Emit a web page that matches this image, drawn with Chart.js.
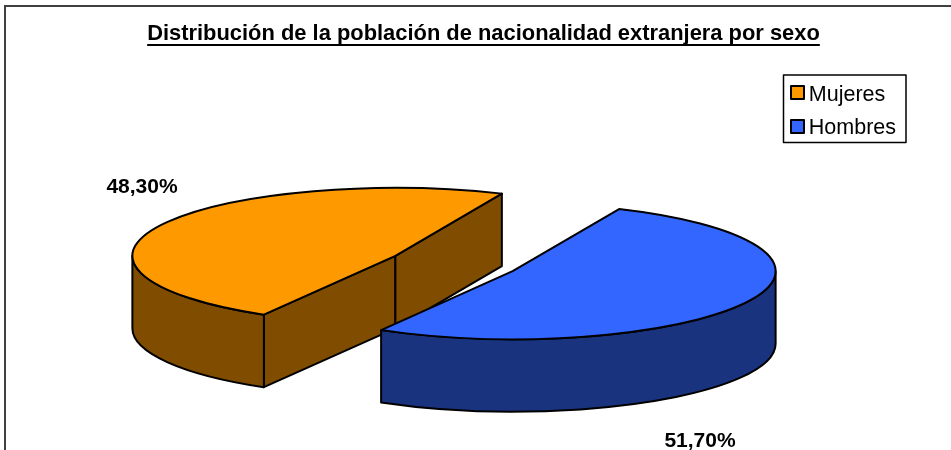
<!DOCTYPE html>
<html lang="es">
<head>
<meta charset="utf-8">
<title>Distribución por sexo</title>
<script src="https://cdn.jsdelivr.net/npm/chart.js@4"></script>
<style>
  html, body { margin: 0; background: #fff; }
  canvas { display: block; }
</style>
</head>
<body>
<canvas id="grafico" width="951" height="450"></canvas>
<script>
const tituloGrafico = 'Distribución de la población de nacionalidad extranjera por sexo';
const categorias = ['Mujeres', 'Hombres'];
const valores = [48.3, 51.7];
const coloresTapa = ['#FF9900', '#3366FF'];
const coloresLado = ['#804D00', '#19337F'];
const posEtiquetas = [[142, 187], [700, 441]];

// Perspectiva de la tarta
const pieX = 454, pieY = 263.5, radioX = 263, radioY = 68, fondo = 72.5;
const separacion = 0.25; // fraccion del radio que se separa cada porcion
const fuente = 'Liberation Sans, Arial, sans-serif';

function centroNativo(chart) {
  const area = chart.chartArea;
  return { x: (area.left + area.right) / 2, y: (area.top + area.bottom) / 2 };
}

function centroPantalla(chart, arc) {
  const n = centroNativo(chart);
  return {
    x: pieX + (arc.x - n.x) * radioX / arc.outerRadius,
    y: pieY + (arc.y - n.y) * radioY / arc.outerRadius
  };
}

function borde(ctx) {
  ctx.strokeStyle = '#000';
  ctx.lineWidth = 2;
  ctx.lineJoin = 'round';
  ctx.stroke();
}

// Cara plana del corte, solo si mira hacia el frente
function caraCorte(ctx, c, ang, color) {
  const px = c.x + Math.cos(ang) * radioX;
  const py = c.y + Math.sin(ang) * radioY;
  ctx.beginPath();
  ctx.moveTo(c.x, c.y);
  ctx.lineTo(px, py);
  ctx.lineTo(px, py + fondo);
  ctx.lineTo(c.x, c.y + fondo);
  ctx.closePath();
  ctx.fillStyle = color;
  ctx.fill();
  borde(ctx);
}

// Pared curva: parte del arco que queda en la mitad inferior
function paredCurva(ctx, c, arc, color) {
  for (let k = -1; k <= 1; k++) {
    const a0 = Math.max(arc.startAngle, k * 2 * Math.PI);
    const a1 = Math.min(arc.endAngle, k * 2 * Math.PI + Math.PI);
    if (a1 <= a0) continue;
    ctx.beginPath();
    ctx.ellipse(c.x, c.y, radioX, radioY, 0, a0, a1);
    ctx.ellipse(c.x, c.y + fondo, radioX, radioY, 0, a1, a0, true);
    ctx.closePath();
    ctx.fillStyle = color;
    ctx.fill();
    borde(ctx);
  }
}

const tarta3d = {
  id: 'tarta3d',
  // Separa las porciones moviendo los propios elementos del grafico
  afterDatasetUpdate(chart) {
    chart.getDatasetMeta(0).data.forEach(arc => {
      const mid = (arc.startAngle + arc.endAngle) / 2;
      arc.x += Math.cos(mid) * arc.outerRadius * separacion;
      arc.y += Math.sin(mid) * arc.outerRadius * separacion;
    });
  },
  beforeDraw(chart) {
    const ctx = chart.ctx;
    ctx.save();
    ctx.fillStyle = '#fff';
    ctx.fillRect(0, 0, chart.width, chart.height);
    // Marco: solo arriba y a la izquierda
    ctx.fillStyle = '#404040';
    ctx.fillRect(4, 5, 2, chart.height - 5);
    ctx.fillRect(4, 5, chart.width - 4, 2);
    ctx.restore();
  },
  beforeDatasetsDraw(chart) {
    const ctx = chart.ctx;
    const arcos = chart.getDatasetMeta(0).data;
    arcos.forEach((arc, i) => {
      const c = centroPantalla(chart, arc);
      if (Math.cos(arc.startAngle) < 0) caraCorte(ctx, c, arc.startAngle, coloresLado[i]);
      if (Math.cos(arc.endAngle) > 0) caraCorte(ctx, c, arc.endAngle, coloresLado[i]);
      paredCurva(ctx, c, arc, coloresLado[i]);
    });
    // Las tapas las dibuja Chart.js, aplastadas con esta transformacion
    const n = centroNativo(chart);
    const r = arcos[0].outerRadius;
    ctx.save();
    ctx.translate(pieX, pieY);
    ctx.scale(radioX / r, radioY / r);
    ctx.translate(-n.x, -n.y);
  },
  afterDatasetsDraw(chart) {
    const ctx = chart.ctx;
    ctx.restore();
    chart.getDatasetMeta(0).data.forEach(arc => {
      const c = centroPantalla(chart, arc);
      ctx.beginPath();
      ctx.ellipse(c.x, c.y, radioX, radioY, 0, arc.startAngle, arc.endAngle);
      ctx.lineTo(c.x, c.y);
      ctx.closePath();
      borde(ctx);
    });
  },
  afterDraw(chart) {
    const ctx = chart.ctx;
    ctx.save();
    // Subrayado del titulo
    const t = chart.titleBlock;
    ctx.font = 'bold 21.9px ' + fuente;
    const ancho = ctx.measureText(tituloGrafico).width;
    const mitad = (t.left + t.right) / 2;
    ctx.fillStyle = '#000';
    ctx.fillRect(mitad - ancho / 2, 44, ancho, 2);
    // Etiquetas de porcentaje
    ctx.font = 'bold 21px ' + fuente;
    ctx.textAlign = 'center';
    ctx.textBaseline = 'middle';
    valores.forEach((v, i) => {
      const txt = v.toFixed(2).replace('.', ',') + '%';
      ctx.fillText(txt, posEtiquetas[i][0], posEtiquetas[i][1]);
    });
    // Caja y muestras de la leyenda
    const cajas = chart.legend.legendHitBoxes;
    ctx.strokeStyle = '#000';
    ctx.lineWidth = 1.5;
    ctx.strokeRect(Math.round(cajas[0].left) - 11.5, Math.round(cajas[0].top) - 9, 122.5, 67.5);
    ctx.lineWidth = 2;
    cajas.forEach((h, i) => {
      const mx = Math.round(h.left) - 4;
      const my = Math.round(h.top + h.height / 2) - 9;
      ctx.fillStyle = coloresTapa[i];
      ctx.fillRect(mx, my, 13, 13);
      ctx.strokeRect(mx, my, 13, 13);
    });
    ctx.restore();
  }
};

new Chart(document.getElementById('grafico'), {
  type: 'pie',
  data: {
    labels: categorias,
    datasets: [{
      data: valores,
      backgroundColor: coloresTapa,
      borderWidth: 0,
      hoverOffset: 0,
      clip: false
    }]
  },
  options: {
    responsive: false,
    animation: false,
    devicePixelRatio: 1,
    rotation: 210,
    layout: { padding: { left: 61, right: 45, top: 0, bottom: 0 } },
    plugins: {
      tooltip: { enabled: false },
      title: {
        display: true,
        text: tituloGrafico,
        color: '#000',
        font: { family: fuente, size: 21.9, weight: 'bold' },
        padding: { top: 21, bottom: 25 }
      },
      legend: {
        position: 'right',
        align: 'start',
        fullSize: false,
        labels: {
          color: '#000',
          font: { family: fuente, size: 21.5 },
          boxWidth: 3.25,
          boxHeight: 14,
          padding: 12,
          generateLabels: () => categorias.map((texto, i) => ({
            text: texto,
            fillStyle: 'rgba(0,0,0,0)',
            strokeStyle: 'rgba(0,0,0,0)',
            lineWidth: 0,
            index: i
          }))
        }
      }
    }
  },
  plugins: [tarta3d]
});
</script>
</body>
</html>
